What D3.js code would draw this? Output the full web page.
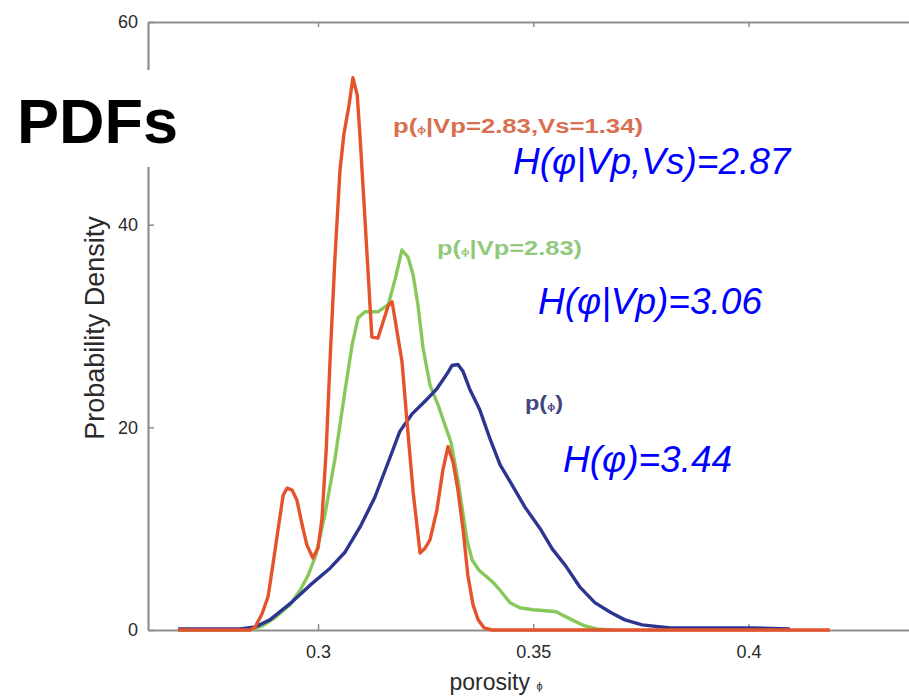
<!DOCTYPE html>
<html>
<head>
<meta charset="utf-8">
<script src="https://cdn.jsdelivr.net/npm/d3@7"></script>
<style>
  body { margin: 0; background: #fff; }
  svg { display: block; font-family: "Liberation Sans", Arial, Helvetica, sans-serif; }
</style>
</head>
<body>
<div id="chart"></div>
<script>
// ---- data ----
var xTicks = [0.3, 0.35, 0.4];
var yTicks = [0, 20, 40, 60];

// p(phi | Vp=2.83, Vs=1.34)
var porosityVpVs = [0.2675, 0.2842, 0.2854, 0.2870, 0.2884, 0.2895, 0.2907, 0.2919, 0.2928, 0.2940, 0.2951, 0.2963, 0.2974, 0.2988, 0.3000, 0.3009, 0.3019, 0.3028, 0.3039, 0.3051, 0.3060, 0.3072, 0.3081, 0.3091, 0.3098, 0.3107, 0.3116, 0.3125, 0.3139, 0.3151, 0.3163, 0.3172, 0.3181, 0.3195, 0.3207, 0.3221, 0.3237, 0.3249, 0.3260, 0.3276, 0.3290, 0.3302, 0.3314, 0.3325, 0.3337, 0.3348, 0.3360, 0.3372, 0.3386, 0.3404, 0.4189];
var densityVpVs  = [0, 0, 0.3, 1.6, 3.3, 6.4, 9.9, 13.3, 14.0, 13.8, 12.8, 10.4, 8.4, 7.1, 8.1, 10.9, 17.8, 26.7, 36.5, 45.4, 48.9, 51.8, 54.5, 52.8, 48.4, 42.0, 35.5, 28.9, 28.8, 30.4, 32.0, 32.4, 30.1, 26.5, 20.4, 13.6, 7.6, 8.1, 8.9, 11.8, 15.8, 18.1, 16.5, 13.8, 9.9, 5.4, 2.5, 1.0, 0.2, 0, 0];

// p(phi | Vp=2.83)
var porosityVp = [0.2675, 0.2842, 0.2870, 0.2900, 0.2935, 0.2958, 0.2977, 0.2995, 0.3016, 0.3039, 0.3063, 0.3079, 0.3093, 0.3109, 0.3139, 0.3163, 0.3179, 0.3195, 0.3209, 0.3221, 0.3232, 0.3244, 0.3260, 0.3279, 0.3295, 0.3309, 0.3325, 0.3337, 0.3346, 0.3358, 0.3374, 0.3393, 0.3409, 0.3427, 0.3446, 0.3469, 0.3499, 0.3530, 0.3553, 0.3571, 0.3590, 0.3620, 0.3648, 0.3681];
var densityVp  = [0, 0, 0.4, 1.2, 2.5, 3.9, 5.4, 7.4, 11.4, 16.8, 23.7, 28.1, 30.8, 31.4, 31.4, 32.1, 34.6, 37.5, 36.8, 35.0, 32.1, 27.8, 24.2, 22.2, 20.2, 18.5, 14.8, 11.4, 8.9, 6.9, 5.9, 5.2, 4.6, 3.7, 2.7, 2.2, 2.0, 1.9, 1.8, 1.4, 1.0, 0.4, 0.1, 0];

// p(phi) prior
var porosityPrior = [0.2675, 0.2819, 0.2854, 0.2888, 0.2935, 0.2981, 0.3028, 0.3063, 0.3098, 0.3132, 0.3167, 0.3190, 0.3218, 0.3249, 0.3276, 0.3300, 0.3311, 0.3325, 0.3337, 0.3353, 0.3376, 0.3400, 0.3423, 0.3451, 0.3481, 0.3516, 0.3544, 0.3574, 0.3609, 0.3643, 0.3681, 0.3713, 0.3753, 0.3818, 0.4004, 0.4096];
var densityPrior  = [0.1, 0.1, 0.3, 1.0, 2.6, 4.4, 6.1, 7.7, 10.2, 13.1, 17.0, 19.6, 21.3, 22.6, 23.8, 25.3, 26.1, 26.2, 25.5, 23.7, 21.7, 18.8, 16.3, 14.3, 12.1, 10.0, 8.0, 6.4, 4.2, 2.7, 1.7, 1.0, 0.5, 0.2, 0.2, 0.1];

var entropyLabels = ["H(φ|Vp,Vs)=2.87", "H(φ|Vp)=3.06", "H(φ)=3.44"];

// ---- layout ----
var width = 909, height = 696;

var x = d3.scaleLinear().domain([0.2605, 0.44]).range([148, 920.7]);
var y = d3.scaleLinear().domain([0, 60]).range([630, 22]);

var svg = d3.select("#chart").append("svg")
  .attr("width", width)
  .attr("height", height);

var axisColor = "#8e8e8e";

// bottom axis with inward ticks
var xAxis = svg.append("g")
  .attr("transform", "translate(0," + y(0) + ")")
  .call(d3.axisBottom(x).tickValues(xTicks).tickSizeInner(-6).tickSizeOuter(0).tickPadding(15)
    .tickFormat(d3.format("")));

// top axis, ticks only
var xTop = svg.append("g")
  .attr("transform", "translate(0," + y(60) + ")")
  .call(d3.axisTop(x).tickValues(xTicks).tickSizeInner(-5).tickSizeOuter(0).tickFormat(""));

// left axis
var yAxis = svg.append("g")
  .attr("transform", "translate(" + x(0.2605) + ",0)")
  .call(d3.axisLeft(y).tickValues(yTicks).tickSizeInner(-6).tickSizeOuter(0).tickPadding(10));

[xAxis, xTop, yAxis].forEach(function (g) {
  g.select(".domain").attr("stroke", axisColor).attr("stroke-width", 2.2);
  g.selectAll(".tick line").attr("stroke", axisColor).attr("stroke-width", 1.5);
  g.selectAll(".tick text")
    .attr("fill", "#2a2a2a")
    .style("font-size", "18px")
    .style("font-family", "'Liberation Sans', Arial, sans-serif");
});

// axis titles
svg.append("text")
  .attr("transform", "translate(104,328) rotate(-90)")
  .attr("text-anchor", "middle")
  .attr("fill", "#2a2a2a")
  .style("font-size", "27px")
  .text("Probability Density");

var xTitle = svg.append("text")
  .attr("x", 496)
  .attr("y", 690)
  .attr("text-anchor", "middle")
  .attr("fill", "#2a2a2a")
  .style("font-size", "23px");
xTitle.append("tspan").text("porosity ");
xTitle.append("tspan").style("font-size", "11px").text("ϕ");

// curves
var line = d3.line()
  .x(function (d) { return x(d[0]); })
  .y(function (d) { return y(d[1]); });

function pairs(xs, ys) { return xs.map(function (v, i) { return [v, ys[i]]; }); }

var series = [
  { xs: porosityVp, ys: densityVp, color: "#86c95a" },
  { xs: porosityPrior, ys: densityPrior, color: "#2c3590" },
  { xs: porosityVpVs, ys: densityVpVs, color: "#e5532c" }
];

svg.selectAll("path.curve")
  .data(series)
  .enter()
  .append("path")
    .attr("class", "curve")
    .attr("d", function (d) { return line(pairs(d.xs, d.ys)); })
    .attr("fill", "none")
    .attr("stroke", function (d) { return d.color; })
    .attr("stroke-width", 3.4)
    .attr("stroke-linejoin", "round");

// curve labels (small phi)
function curveLabel(px, py, before, after, color, len) {
  var t = svg.append("text")
    .attr("x", px).attr("y", py)
    .attr("fill", color)
    .style("font-size", "20px")
    .style("font-weight", "bold")
    .attr("textLength", len)
    .attr("lengthAdjust", "spacingAndGlyphs");
  t.append("tspan").text(before);
  t.append("tspan").style("font-size", "9px").text("ϕ");
  t.append("tspan").text(after);
}
curveLabel(393, 133, "p(", "|Vp=2.83,Vs=1.34)", "#d8704f", 250);
curveLabel(437, 255, "p(", "|Vp=2.83)", "#92c97c", 145);
curveLabel(525, 410, "p(", ")", "#44457f", 38);

// entropy labels in blue italic
var entropyPos = [[513, 174], [538, 314], [563, 472]];
svg.selectAll("text.entropy")
  .data(entropyLabels)
  .enter()
  .append("text")
    .attr("class", "entropy")
    .attr("x", function (d, i) { return entropyPos[i][0]; })
    .attr("y", function (d, i) { return entropyPos[i][1]; })
    .attr("fill", "#0000ff")
    .style("font-size", "37px")
    .style("font-style", "italic")
    .text(function (d) { return d; });

// white patch and big title
svg.append("rect")
  .attr("x", 0).attr("y", 70)
  .attr("width", 182).attr("height", 97)
  .attr("fill", "#fff");

svg.append("text")
  .attr("x", 17)
  .attr("y", 143)
  .attr("fill", "#000")
  .style("font-size", "63px")
  .style("font-weight", "bold")
  .text("PDFs");
</script>
</body>
</html>
